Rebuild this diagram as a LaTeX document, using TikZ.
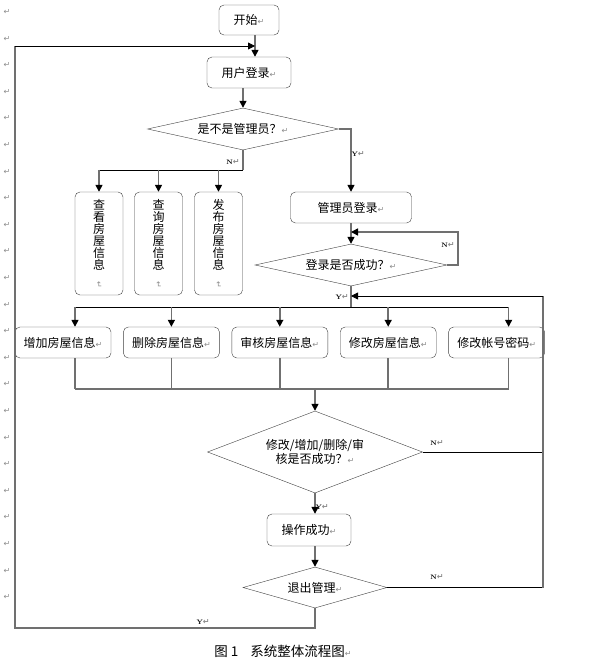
\documentclass[tikz,border=0pt]{standalone}
\usepackage{fontspec}
\usepackage{graphicx}
\usetikzlibrary{positioning,arrows.meta,shapes.geometric}
\newfontfamily\cjk{Noto Sans CJK SC}
\newfontfamily\dejavu{DejaVu Sans}
\definecolor{linegray}{HTML}{707070}
\definecolor{boxgray}{HTML}{404040}
\newcommand{\parmark}{{\dejavu\color{black!45}\fontsize{8}{8}\selectfont ↵}}
\newcommand{\tightlines}{\setlength{\lineskiplimit}{-20pt}}

\begin{document}
\begin{tikzpicture}[x=1pt,y=-1pt,>={Triangle[length=7pt,width=7pt,color=black]},
  font=\cjk\fontsize{12}{12}\selectfont,
  box/.style={draw=boxgray,rounded corners=5pt,fill=white,inner sep=2pt},
  vbox/.style={box,minimum width=48pt,minimum height=103pt,align=center,
    font=\cjk\fontsize{12}{12}\selectfont\tightlines},
  choice/.style={draw=boxgray,diamond,inner sep=0pt,fill=white},
  conn/.style={draw=linegray,line width=1.5pt},
  thinconn/.style={draw=black,line width=0.8pt},
  lab/.style={font=\fontsize{6.5}{7}\selectfont\bfseries,inner sep=1pt},
  pmark/.style={inner sep=0pt}]
  \useasboundingbox (0,0) rectangle (592,663);

  % paragraph marks down the left margin
  \foreach \i in {0,...,22}
    \node[pmark] (lm\i) at (7,{12+26.6*\i}) {\parmark};

  \node[box,minimum width=60pt,minimum height=30pt] (start) at (249,20) {开始\parmark};
  \node[box,minimum width=84pt,minimum height=31pt] (login) at (249,72.5) {用户登录\parmark};
  \node[choice,aspect=4.5,minimum width=191pt,minimum height=42pt] (isadmin) at (243,129) {是不是管理员？\parmark};

  \node[vbox] (view) at (99,243.5) {查\\看\\房\\屋\\信\\息\\\rotatebox{-90}{\parmark}};
  \node[vbox] (query) at (158.5,243.5) {查\\询\\房\\屋\\信\\息\\\rotatebox{-90}{\parmark}};
  \node[vbox] (publish) at (218.5,243.5) {发\\布\\房\\屋\\信\\息\\\rotatebox{-90}{\parmark}};

  \node[box,minimum width=121pt,minimum height=31pt] (adminlogin) at (351,207.5) {管理员登录\parmark};
  \node[choice,aspect=4.5,minimum width=192pt,minimum height=42pt] (loginok) at (351,265) {登录是否成功？\parmark};

  \node[box,minimum width=96pt,minimum height=31pt] (add) at (63,342.5) {增加房屋信息\parmark};
  \node[box,minimum width=96pt,minimum height=31pt,right=12pt of add] (del) {删除房屋信息\parmark};
  \node[box,minimum width=96pt,minimum height=31pt,right=12pt of del] (audit) {审核房屋信息\parmark};
  \node[box,minimum width=96pt,minimum height=31pt,right=12pt of audit] (edit) {修改房屋信息\parmark};
  \node[box,minimum width=96pt,minimum height=31pt,right=12pt of edit] (pwd) {修改帐号密码\parmark};

  \node[choice,aspect=2.6,minimum width=215pt,minimum height=82pt,align=center] (opok) at (315,452) {修改/增加/删除/审\\核是否成功？\parmark};
  \node[box,minimum width=84pt,minimum height=32pt] (success) at (309,530) {操作成功\parmark};
  \node[choice,aspect=3.5,minimum width=144pt,minimum height=41pt] (quit) at (315,587.5) {退出管理\parmark};

  \node[font=\cjk\fontsize{13.5}{14}\selectfont] (caption) at (283,651) {图 1\hspace{12pt}系统整体流程图\parmark};

  \coordinate (topin) at (255,46);
  \coordinate (topleft) at (15,46);
  \coordinate (botleft) at (15,628);
  \coordinate (nsplit) at (243,170);
  \coordinate (nback) at (351,232);
  \coordinate (ysplit) at (351,307);
  \coordinate (yback) at (351,296);
  \coordinate (rt) at (543,296);
  \coordinate (merge) at (315,389);

  \draw[conn,->] ([xshift=6pt]start.south) -- ([xshift=6pt]login.north);
  \draw[conn,->] ([xshift=-6pt]login.south) -- (isadmin.north);
  \draw[conn,->] (isadmin.east) -| (adminlogin.north);
  \draw[conn] (isadmin.south) -- (nsplit);
  \draw[thinconn] (nsplit) -- (view.north |- nsplit);
  \foreach \b in {view,query,publish}
    \draw[conn,->] (\b.north |- nsplit) -- (\b.north);

  \draw[conn,->] (adminlogin) -- (loginok);
  \draw[conn,->] (loginok.east) -- ++(11,0) |- (nback);
  \draw[conn] (loginok.south) -- (ysplit);
  \draw[thinconn] ([xshift=12pt]add.north |- ysplit) -- ([xshift=12pt]pwd.north |- ysplit);
  \foreach \b/\s in {add/12pt,del/0pt,audit/0pt,edit/0pt,pwd/12pt} {
    \draw[conn,->] ([xshift=\s]\b.north |- ysplit) -- ([xshift=\s]\b.north);
    \draw[conn] ([xshift=\s]\b.south) -- ([xshift=\s]\b.south |- merge);
  }
  \draw[conn] ([xshift=12pt]add.south |- merge) -- ([xshift=12pt]pwd.south |- merge);
  \draw[conn,->] (merge) -- (opok.north);

  \draw[thinconn] (opok.east) -- (opok.east -| rt);
  \draw[conn,->] (opok.south) -- (opok.south |- success.north);
  \draw[conn,->] (quit.north |- success.south) -- (quit.north);
  \draw[thinconn] (quit.east) -- (quit.east -| rt);
  \draw[conn] (quit.east -| rt) -- (rt);
  \draw[thinconn,->] (rt) -- (yback);
  \draw[conn] (quit.south) |- (botleft) -- (topleft);
  \draw[thinconn,->] (topleft) -- (topin);

  \node[lab] (n1) at (233,162) {N\parmark};
  \node[lab] (y1) at (358,154) {Y\parmark};
  \node[lab] (n2) at (448,245) {N\parmark};
  \node[lab] (y2) at (342,297) {Y\parmark};
  \node[lab] (n3) at (437,443) {N\parmark};
  \node[lab] (y3) at (322,507) {Y\parmark};
  \node[lab] (n4) at (437,577) {N\parmark};
  \node[lab] (y4) at (203,622) {Y\parmark};
\end{tikzpicture}
\end{document}
